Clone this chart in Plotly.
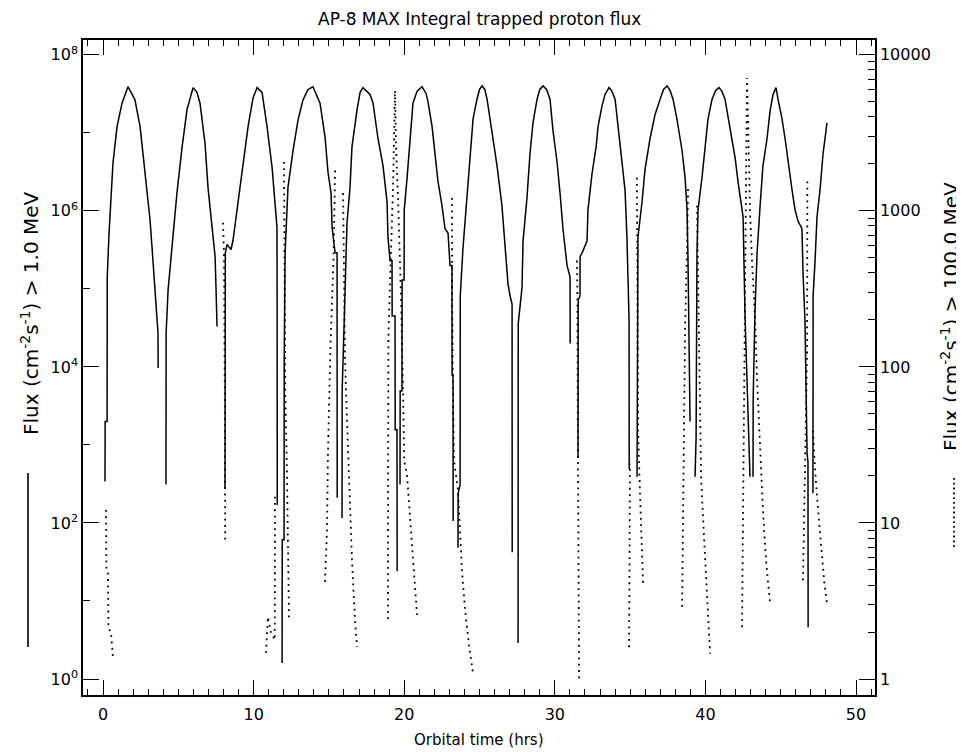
import plotly.graph_objects as go

# ---------------- data ----------------
# Integral flux > 1.0 MeV (solid, left axis). None = gap in the trace.
solid_hours = [
    0.13, 0.14, 0.27, 0.28, 0.40, 0.60, 0.66, 0.93, 1.26, 1.66, 2.12, 2.46, 2.66, 2.92, 3.12, 3.25, 3.45, 3.59, 3.65, 3.66, None,
    4.18, 4.19, 4.32, 4.58, 4.91, 5.25, 5.58, 5.98, 6.24, 6.44, 6.77, 6.97, 7.30, 7.44, 7.50, 7.57, None,
    8.10, 8.11, 8.12, 8.23, 8.50, 8.63, 8.90, 9.30, 9.63, 9.96, 10.23, 10.56, 10.89, 11.22, 11.42, 11.55, 11.56, 11.57, None,
    11.89, 11.90, 12.02, 12.03, 12.09, 12.22, 12.28, 12.62, 12.95, 13.28, 13.61, 13.94, 14.41, 14.74, 14.94, 15.14, 15.21, 15.41, 15.54, 15.55, None,
    15.87, 15.88, 15.94, 16.20, 16.40, 16.53, 16.87, 17.07, 17.26, 17.73, 17.93, 18.26, 18.59, 18.86, 18.92, 19.06, 19.19, 19.20, 19.39, 19.40, 19.52, 19.53, None,
    19.72, 19.73, 19.85, 19.86, 19.99, 20.00, 20.19, 20.39, 20.58, 20.85, 21.18, 21.45, 21.58, 21.85, 22.05, 22.24, 22.51, 22.71, 22.91, 23.04, 23.17, 23.18, 23.24, 23.25, None,
    23.57, 23.58, 23.71, 23.72, 23.90, 24.17, 24.37, 24.57, 24.83, 25.00, 25.17, 25.35, 25.50, 25.83, 26.16, 26.49, 26.69, 26.89, 27.03, 27.16, 27.17, None,
    27.56, 27.57, 27.82, 27.89, 28.15, 28.35, 28.55, 28.82, 29.00, 29.22, 29.45, 29.68, 29.88, 30.15, 30.35, 30.54, 30.81, 31.01, 31.02, None,
    31.54, 31.55, 31.67, 31.68, 31.81, 32.14, 32.20, 32.47, 32.74, 32.87, 33.13, 33.33, 33.60, 33.80, 34.00, 34.20, 34.46, 34.66, 34.79, 34.93, 34.94, None,
    35.46, 35.47, 35.52, 35.79, 35.99, 36.32, 36.65, 36.99, 37.22, 37.45, 37.65, 37.85, 38.11, 38.45, 38.65, 38.78, 38.84, 38.98, None,
    39.31, 39.38, 39.44, 39.51, 39.77, 39.97, 40.17, 40.44, 40.68, 40.90, 41.10, 41.30, 41.63, 41.97, 42.16, 42.43, 42.50, 42.63, 42.96, None,
    43.16, 43.17, 43.29, 43.43, 43.63, 43.82, 44.09, 44.29, 44.49, 44.69, 44.82, 45.09, 45.29, 45.48, 45.75, 45.95, 46.15, 46.41, 46.48, 46.61, 46.75, 46.81, 46.82, None,
    47.14, 47.15, 47.28, 47.41, 47.61, 47.74, 47.81, 47.94, 48.07,
]
solid_flux = [
    3.4e2, 2.0e3, 2.0e3, 1.4e5, 5.2e5, 2.0e6, 4.1e6, 1.2e7, 2.4e7, 3.9e7, 2.65e7, 1.2e7, 5.5e6, 1.7e6, 7.7e5, 3.5e5, 1.06e5, 4.9e4, 2.7e4, 9.7e3, None,
    3.1e2, 2.7e4, 9.7e4, 3.5e5, 1.7e6, 6.6e6, 2.0e7, 3.8e7, 3.3e7, 2.4e7, 7.4e6, 2.0e6, 4.2e5, 2.6e5, 1.06e5, 3.3e4, None,
    2.8e2, 4.1e3, 2.9e5, 3.7e5, 3.2e5, 4.2e5, 1.03e6, 4.5e6, 1.2e7, 2.8e7, 3.8e7, 3.3e7, 1.2e7, 3.7e6, 1.38e6, 6.2e5, 7.2e4, 1.7e2, None,
    1.6, 61, 61, 1.23e4, 2.9e5, 1.03e6, 2.0e6, 6.0e6, 1.47e7, 2.65e7, 3.6e7, 3.9e7, 2.4e7, 8.9e6, 3.1e6, 1.7e6, 6.2e5, 2.9e5, 2.9e5, 2.1e2, None,
    1.16e2, 5.1e3, 1.23e4, 7.0e5, 2.0e6, 6.6e6, 2.0e7, 3.3e7, 3.8e7, 3.1e7, 2.4e7, 8.4e6, 3.8e6, 1.3e6, 4.6e5, 2.3e5, 2.3e5, 4.5e4, 4.5e4, 1.56e3, 1.56e3, 24, None,
    3.1e2, 4.9e3, 4.9e3, 1.3e5, 1.3e5, 1.03e6, 2.65e6, 8.4e6, 2.4e7, 3.4e7, 3.9e7, 3.2e7, 2.5e7, 1.2e7, 5.4e6, 2.4e6, 1.16e6, 5.9e5, 5.2e5, 2.0e5, 2.0e5, 7.9e3, 7.9e3, 1.06e2, None,
    48, 2.4e2, 3.1e2, 8.1e4, 3.3e5, 1.47e6, 4.8e6, 1.5e7, 2.7e7, 3.6e7, 4.0e7, 3.6e7, 2.7e7, 1.06e7, 3.8e6, 1.16e6, 3.3e5, 1.16e5, 8.1e4, 6.4e4, 42, None,
    2.9, 3.6e4, 1.03e5, 4.1e5, 1.47e6, 5.4e6, 1.34e7, 2.7e7, 3.6e7, 4.0e7, 3.6e7, 2.7e7, 1.06e7, 4.2e6, 1.65e6, 5.9e5, 2.0e5, 1.43e5, 2.0e4, None,
    6.8e2, 7.2e4, 8.1e4, 2.6e5, 2.9e5, 4.1e5, 1.03e6, 3.0e6, 6.6e6, 1.2e7, 2.2e7, 3.1e7, 3.8e7, 3.4e7, 2.7e7, 1.2e7, 4.8e6, 1.86e6, 4.6e5, 4.0e4, 4.9e2, None,
    3.9e2, 2.8e4, 4.6e5, 1.3e6, 3.4e6, 8.4e6, 1.7e7, 2.7e7, 3.6e7, 4.0e7, 3.5e7, 2.7e7, 1.5e7, 5.9e6, 2.65e6, 1.03e6, 2.6e5, 2.0e3, None,
    3.9e2, 1.23e3, 2.9e5, 1.03e6, 2.65e6, 6.6e6, 1.5e7, 2.7e7, 3.5e7, 3.8e7, 3.4e7, 2.7e7, 1.2e7, 4.8e6, 2.4e6, 1.16e6, 8.4e5, 4.5e4, 3.9e2, None,
    3.9e2, 3.9e3, 5.1e4, 2.9e5, 1.16e6, 3.8e6, 8.4e6, 1.9e7, 3.1e7, 3.8e7, 2.7e7, 1.5e7, 8.4e6, 4.2e6, 1.86e6, 1.03e6, 7.4e5, 5.9e5, 1.6e5, 4.0e4, 7.7e2, 6.1e2, 4.6, None,
    2.4e2, 8.1e4, 2.3e5, 8.4e5, 1.86e6, 4.2e6, 5.4e6, 8.4e6, 1.34e7,
]

# Integral flux > 100.0 MeV (dotted, right axis). None = gap in the trace.
dotted_hours = [
    0.20, 0.21, 0.22, 0.33, 0.34, 0.36, 0.53, 0.66, None,
    7.97, 8.03, 8.09, 8.11, None,
    10.82, 10.95, 11.15, 11.40, 11.41, 11.42, None,
    12.02, 12.05, 12.08, 12.10, 12.20, 12.28, 12.35, None,
    14.74, 14.87, 14.94, 15.07, 15.10, 15.30, 15.41, None,
    15.94, 16.00, 16.07, 16.20, 16.40, 16.53, 16.73, 16.87, None,
    18.92, 18.93, 18.94, 18.95, 19.12, 19.26, 19.39, 19.46, 19.59, 19.79, 19.92, 20.00, 20.19, 20.39, 20.65, 20.85, None,
    23.17, 23.18, 23.24, 23.31, 23.57, 23.71, 23.84, 24.04, 24.30, 24.57, None,
    31.47, 31.50, 31.52, 31.54, 31.56, 31.58, 31.61, None,
    34.93, 34.96, 34.99, None,
    35.45, 35.47, 35.51, 35.53, 35.65, 35.86, None,
    38.45, 38.51, 38.58, 38.65, 38.80, 38.85, None,
    39.44, 39.51, 39.64, 39.71, 39.91, 40.11, 40.31, None,
    42.43, 42.50, 42.56, 42.63, 42.70, 42.76, 42.83, 42.96, 43.09, 43.29, 43.43, 43.63, 43.82, 44.02, 44.29, None,
    46.48, 46.55, 46.66, 46.75, 46.77, None,
    47.14, 47.28, 47.48, 47.68, 47.88, 48.07,
]
dotted_flux = [
    12.1, 7.8, 5.2, 4.8, 3.2, 2.15, 1.97, 1.38, None,
    840, 540, 64, 7.4, None,
    1.47, 2.5, 2.0, 1.78, 4.3, 14.7, None,
    2060, 540, 111, 68, 25, 7.4, 2.46, None,
    4.2, 9.0, 29, 111, 134, 485, 1830, None,
    1300, 270, 111, 46, 14, 5.8, 2.39, 1.6, None,
    2.42, 9.4, 29, 158, 540, 1450, 5900, 2460, 1210, 270, 68, 25, 20, 10.5, 4.3, 2.57, None,
    1210, 270, 61, 25, 16.3, 9.0, 4.85, 2.77, 1.65, 1.08, None,
    480, 280, 64, 28, 9.0, 3.2, 1.01, None,
    1.6, 6.7, 24, None,
    1630, 270, 173, 39, 16, 4.1, None,
    2.9, 14, 61, 178, 720, 1450, None,
    1080, 312, 61, 20, 8.0, 3.3, 1.45, None,
    2.15, 14, 61, 212, 1180, 7100, 3800, 1010, 485, 212, 83, 29, 12.1, 5.8, 3.07, None,
    4.3, 10.5, 25, 128, 1630, None,
    39, 22, 12.1, 6.7, 4.3, 3.07,
]

x_tick_vals = [0, 10, 20, 30, 40, 50]
x_minor_vals = list(range(-1, 52))
left_tick_vals = [1, 1e2, 1e4, 1e6, 1e8]
left_tick_text = ["10<sup>0</sup>", "10<sup>2</sup>", "10<sup>4</sup>", "10<sup>6</sup>", "10<sup>8</sup>"]
left_minor_vals = [1e1, 1e3, 1e5, 1e7]
right_tick_vals = [1, 10, 100, 1000, 10000]
right_tick_text = ["1", "10", "100", "1000", "10000"]
right_minor_vals = [d * 10 ** e for e in range(0, 4) for d in range(2, 10)]

title_text = "AP-8 MAX Integral trapped proton flux"
x_title = "Orbital time (hrs)"
left_title = "Flux (cm<sup>-2</sup>s<sup>-1</sup>) > 1.0 MeV"
right_title = "Flux (cm<sup>-2</sup>s<sup>-1</sup>) > 100.0 MeV"

# ---------------- figure ----------------
FONT = "DejaVu Sans"
# the page body has an 8px margin, so the figure is 8px smaller and margins shifted
W, H, OFF = 956, 744, 8
L, R, T, B = 83 - OFF, 89, 40 - OFF, 57
PW, PH = W - L - R, H - T - B  # 792 x 655 plot area


def px_x(px):  # page pixel -> paper x
    return (px - OFF - L) / PW


def px_y(py):  # page pixel -> paper y
    return (H - B + OFF - py) / PH


X_RANGE = [-1.33, 51.26]
Y_RANGE = [-0.205, 8.19]
Y2_RANGE = [-0.1025, 4.095]

fig = go.Figure()
fig.add_trace(go.Scatter(
    x=solid_hours, y=solid_flux, mode="lines", xaxis="x", yaxis="y",
    line=dict(color="black", width=1.5), connectgaps=False, showlegend=False,
    hoverinfo="skip"))
fig.add_trace(go.Scatter(
    x=dotted_hours, y=dotted_flux, mode="lines", xaxis="x", yaxis="y2",
    line=dict(color="black", width=1.8, dash="1.8px,4.5px"), connectgaps=False,
    showlegend=False, hoverinfo="skip"))
# empty traces so that the minor-tick axes exist
for xa, ya in (("x2", "y"), ("x", "y3"), ("x", "y4")):
    fig.add_trace(go.Scatter(x=[None], y=[None], xaxis=xa, yaxis=ya, mode="lines",
                             showlegend=False, hoverinfo="skip"))

tick_font = dict(family=FONT, size=16, color="black")
base = dict(showgrid=False, zeroline=False, ticks="inside", tickcolor="black",
            tickwidth=1.3, tickfont=tick_font)

fig.update_layout(
    width=W, height=H, autosize=False,
    margin=dict(l=L, r=R, t=T, b=B, pad=0),
    paper_bgcolor="white", plot_bgcolor="white",
    font=dict(family=FONT, color="black"),
    xaxis=dict(range=X_RANGE, tickmode="array", tickvals=x_tick_vals, ticklen=15,
               showline=True, linecolor="black", linewidth=1.5, mirror="ticks",
               ticklabelstandoff=4, **base),
    xaxis2=dict(range=X_RANGE, overlaying="x", anchor="y", tickmode="array",
                tickvals=x_minor_vals, ticklen=6, showticklabels=False,
                showline=False, mirror="ticks", **base),
    yaxis=dict(type="log", range=Y_RANGE, tickmode="array", tickvals=left_tick_vals,
               ticktext=left_tick_text, ticklen=16, showline=True, linecolor="black",
               linewidth=1.5, mirror=False, **base),
    yaxis3=dict(type="log", range=Y_RANGE, overlaying="y", side="left", anchor="x",
                tickmode="array", tickvals=left_minor_vals, ticklen=7,
                showticklabels=False, showline=False, **base),
    yaxis2=dict(type="log", range=Y2_RANGE, overlaying="y", side="right", anchor="x",
                tickmode="array", tickvals=right_tick_vals, ticktext=right_tick_text,
                ticklen=16, showline=True, linecolor="black", linewidth=1.5, **base),
    yaxis4=dict(type="log", range=Y2_RANGE, overlaying="y", side="right", anchor="x",
                tickmode="array", tickvals=right_minor_vals, ticklen=7,
                showticklabels=False, showline=False, **base),
)

# chart title as an annotation centred over the plot area
fig.add_annotation(text=title_text, xref="paper", yref="paper", x=0.5, y=px_y(19),
                   xanchor="center", yanchor="middle", showarrow=False,
                   font=dict(family=FONT, size=17, color="black"))
fig.add_annotation(text=x_title, xref="paper", yref="paper", x=0.5, y=px_y(740),
                   xanchor="center", yanchor="middle", showarrow=False,
                   font=dict(family=FONT, size=15, color="black"))
fig.add_annotation(text=left_title, xref="paper", yref="paper", x=px_x(30),
                   y=px_y(313), textangle=-90, xanchor="center", yanchor="middle",
                   showarrow=False, font=dict(family=FONT, size=20, color="black"))
fig.add_annotation(text=right_title, xref="paper", yref="paper", x=px_x(950),
                   y=px_y(317), textangle=-90, xanchor="center", yanchor="middle",
                   showarrow=False, font=dict(family=FONT, size=20, color="black"))

# line-style keys next to the axis titles
fig.add_shape(type="line", xref="paper", yref="paper",
              x0=px_x(28), x1=px_x(28), y0=px_y(473), y1=px_y(647),
              line=dict(color="black", width=1.6))
fig.add_shape(type="line", xref="paper", yref="paper",
              x0=px_x(954), x1=px_x(954), y0=px_y(478), y1=px_y(548),
              line=dict(color="black", width=1.8, dash="1.8px,3px"))

fig.write_html("out.html")
